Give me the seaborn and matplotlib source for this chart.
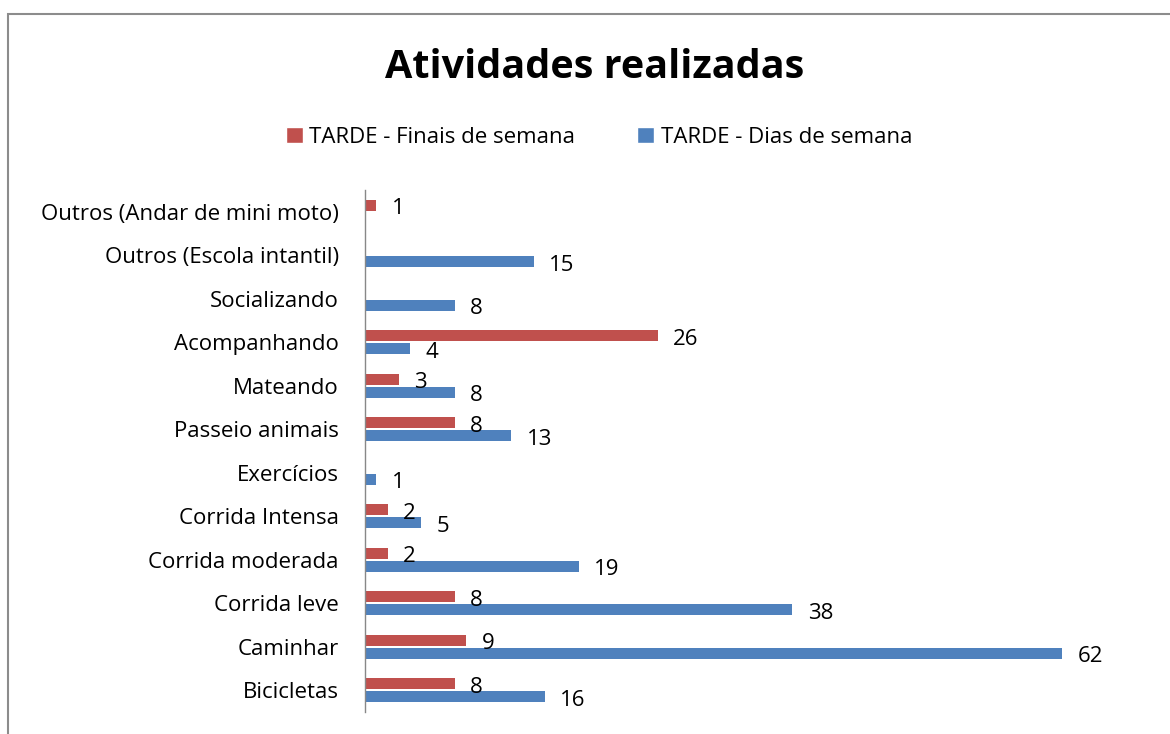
import seaborn as sns
import matplotlib.pyplot as plt
import pandas as pd
import numpy as np
from matplotlib.patches import Rectangle, Patch

sns.set_style("white")
plt.rcParams["font.family"] = ["Open Sans", "DejaVu Sans"]
plt.rcParams["text.color"] = "black"
plt.rcParams["ytick.color"] = "black"

categorias = [
    "Outros (Andar de mini moto)",
    "Outros (Escola intantil)",
    "Socializando",
    "Acompanhando",
    "Mateando",
    "Passeio animais",
    "Exercícios",
    "Corrida Intensa",
    "Corrida moderada",
    "Corrida leve",
    "Caminhar",
    "Bicicletas",
]
finais_semana = [1, np.nan, np.nan, 26, 3, 8, np.nan, 2, 2, 8, 9, 8]
dias_semana = [np.nan, 15, 8, 4, 8, 13, 1, 5, 19, 38, 62, 16]
series = ["TARDE - Finais de semana", "TARDE - Dias de semana"]
cores = ["#C0504D", "#4F81BD"]

df = pd.DataFrame({
    "atividade": categorias * 2,
    "serie": [series[0]] * len(categorias) + [series[1]] * len(categorias),
    "valor": finais_semana + dias_semana,
})

fig = plt.figure(figsize=(11.7, 7.34), dpi=100)
ax = fig.add_axes([0.312, 0.030, 0.673, 0.711])

sns.barplot(data=df, y="atividade", x="valor", hue="serie", order=categorias,
            hue_order=series, palette=cores, saturation=1, width=0.6, gap=0.15,
            linewidth=0, orient="h", errorbar=None, ax=ax, legend=False)

# rotulos de dados um pouco abaixo do centro da barra, como no Excel
for cont in ax.containers:
    for t in ax.bar_label(cont, fmt="%g", padding=11, fontsize=16):
        t.xyann = (11, -2.5)

ax.set_xlim(0, 70)
ax.set_ylim(11.5, -0.5)
ax.set_xlabel("")
ax.set_ylabel("")
ax.set_xticks([])
ax.tick_params(axis="y", length=0, pad=19, labelsize=16)
for s in ["top", "right", "bottom"]:
    ax.spines[s].set_visible(False)
ax.spines["left"].set_color("#888888")
ax.spines["left"].set_linewidth(1)

fig.text(0.508, 0.908, "Atividades realizadas", ha="center", va="center",
         fontsize=28.5, fontweight="bold")

handles = [Patch(facecolor=c, label=l) for c, l in zip(cores, series)]
fig.legend(handles=handles, loc="center", bbox_to_anchor=(0.512, 0.813), ncol=2,
           frameon=False, fontsize=16, handlelength=0.75, handleheight=0.75,
           handletextpad=0.3, columnspacing=2.8)

fig.patches.append(Rectangle((0.007, -0.05), 1.1, 1.031, transform=fig.transFigure,
                             fill=False, edgecolor="#8c8c8c", linewidth=1.5))

fig.savefig("out.png", dpi=100)
